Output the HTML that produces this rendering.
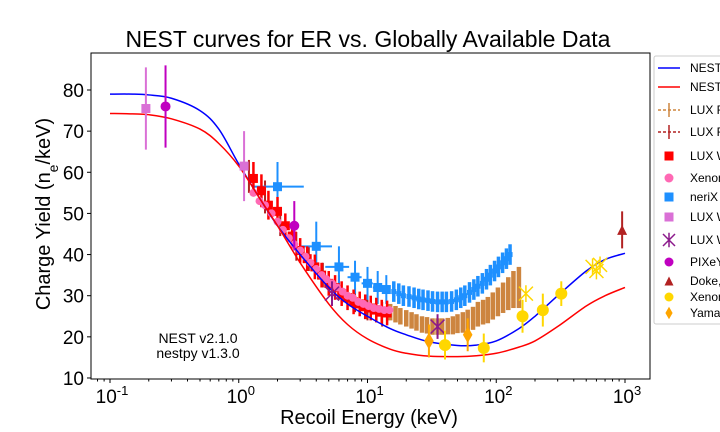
<!DOCTYPE html>
<html><head><meta charset="utf-8"><style>
body{margin:0;background:#fff;}
svg{display:block;font-family:"Liberation Sans","DejaVu Sans",sans-serif;}
</style></head><body>
<svg id="c" width="720" height="432" viewBox="0 0 720 432">
<rect x="0" y="0" width="720" height="432" fill="#fff"/>
<text x="368" y="47" font-size="23" text-anchor="middle">NEST curves for ER vs. Globally Available Data</text>
<text x="369" y="424" font-size="20" text-anchor="middle">Recoil Energy (keV)</text>
<text transform="translate(50,214) rotate(-90)" font-size="20" text-anchor="middle">Charge Yield (n<tspan baseline-shift="sub" font-size="14">e</tspan>/keV)</text>
<g id="grid"></g>
<g id="plot"></g>
<text x="198" y="343" font-size="14" text-anchor="middle">NEST v2.1.0</text>
<text x="198" y="358" font-size="14" text-anchor="middle">nestpy v1.3.0</text>
<rect x="91" y="53" width="559" height="326" fill="none" stroke="#000" stroke-width="1"/>
<g id="legend"></g>
</svg>
<script>
// ---- data ----
const curveE = [0.1,0.15,0.2,0.3,0.5,0.7,1,1.5,2,3,5,7,10,15,20,30,50,70,100,150,200,300,500,700,1000];
const blueY  = [79,79,78.8,78,75,70.5,62,53,47,40,32,28,25,22,20.5,18.8,17.9,18,19,22,25,30,36,38.8,40.3];
const redY   = [74.3,74.2,74,73,70.5,67,61.5,53,47,38,28,23,19.5,17,16,15.3,15.2,15.4,16,17.5,19,22.5,27.5,30,32];

const luxE = [1.3,1.5,1.7,2.0,2.3,2.6,3.0,3.4,3.9,4.4,5.0,5.6,6.3,7.0,7.8,8.7,9.6,10.6,11.7,12.9,14.2];
const luxY = [58.5,55.5,52,50.5,47,44.5,41,39,37,35,33,32,30.5,29.5,28.5,28,27.3,27,26.5,26,25.8];
const luxErr = [4,4,3.5,3.5,3,3,3,3,3,3,3,3,3,3,3,3,3,3,3,3,3];

const xenE = [1.3,1.45,1.6,1.8,2.0,2.2,2.45,2.7,3.0,3.3,3.6,4.0,4.4,4.8,5.3,5.8,6.4,7.0,7.7,8.5,9.3,10.2,11.2,12.3,13.5,14.8];
const xenY = [55,53,52,50,48,46,44,42.5,41,39.5,38,36.5,35,34,33,32,31,30,29.5,28.5,28,27.5,27,26.8,26.5,26.5];

const nerixBigE = [2.0,4.0,6.0,8.0,10,12,14];
const nerixBigY = [56.5,42,37,34.5,33,32,31.5];
const nerixBigYErr = [6,6,5,4,4,4,3.5];
const nerixBigXLo = [1.3,3.0,4.7,7,9,11,13];
const nerixBigXHi = [3.2,5.3,7.2,9,11,13,15];
const nerixE = [16,17.5,19,21,23,25,27,29.5,32,35,38,41,45,49,53,57,62,67,72,78,84,90,97,104,112,120,128];
const nerixY = [31,30.5,30,29.8,29.5,29.2,29,28.8,28.6,28.5,28.5,28.5,28.6,29,29.5,30,30.8,31.5,32.3,33,34,35,36,37,38,39,40];
const nerixErr = [2.5,2.5,2.5,2.5,2.5,2.5,2.5,2.5,2.5,2.5,2.5,2.5,2.5,2.5,2.5,2.5,2.5,2.5,2.5,2.5,2.5,2.5,2.5,2.5,2.5,2.5,2.5];

const run3E = [15,16.5,18,20,22,24,26.5,29,32,35,38,42,46,50,55,60,66,72,79,86,94,103,113,124,136,150];
const run3Y = [26,25.5,25,24.5,24,23.5,23,22.8,22.5,22.5,22.5,22.6,22.8,23.2,23.5,24,24.5,25.5,26,26.5,27.5,28.5,29.5,30.5,31.5,32];
const run3Err = [2,2,2,2,2,2,2,2,2,2,2,2,2.2,2.3,2.5,2.6,2.8,3,3,3.2,3.3,3.5,3.7,4,4.5,5];

const run4E = [1.2,1.6,2.1,2.8,3.5,4.5,6,8,10,13];
const run4Y = [59,54,48,42,39,35,32,29,27,25.5];
const run4Err = [4,4,3.5,3.5,3,3,3,3,3,3];

const orchidE = [0.19,1.1];
const orchidY = [75.5,61.5];
const orchidErr = [10,8.5];
const pixeyE = [0.27,2.7];
const pixeyY = [76,47];
const pixeyErr = [10,6];
const purpleXE = [5.3,35];
const purpleXY = [30.5,22.5];
const purpleXErr = [3,3];
const dokeE = [950];
const dokeY = [46];
const dokeErr = [4.5];
const goldE = [40,80,160,230,320];
const goldY = [18,17.3,25,26.5,30.5];
const goldErr = [3.5,3.5,4,4,3];
const goldStarE = [170,560,600,640];
const goldStarY = [30.5,37,36,37.5];
const yamaE = [30,60];
const yamaY = [19,20.5];
const yamaErr = [4,4];

const yTicks = [10,20,30,40,50,60,70,80];
const xTickExp = [-1,0,1,2,3];

// ---- scales ----
const xs = e => 110 + 128.75*(Math.log10(e)+1);
const ys = v => 90 + (80-v)*4.114;
const NS='http://www.w3.org/2000/svg';
const plot=document.getElementById('plot'), grid=document.getElementById('grid'), leg=document.getElementById('legend');
function mk(tag, attrs, parent){const el=document.createElementNS(NS,tag);for(const k in attrs)el.setAttribute(k,attrs[k]);(parent||plot).appendChild(el);return el;}

yTicks.forEach(v=>{
  const l=mk('line',{x1:87,x2:91,y1:ys(v),y2:ys(v),stroke:'#000'},grid);
  
  
  const t=mk('text',{x:84,y:ys(v)+7,'font-size':19,'text-anchor':'end'},grid);
  t.textContent=v;
  
  
});
xTickExp.forEach(p=>{
  const x=xs(Math.pow(10,p));
  const l=mk('line',{x1:x,x2:x,y1:379,y2:383,stroke:'#000'},grid);
  
  
  const t=mk('text',{x:x+2,y:403,'font-size':19,'text-anchor':'middle'},grid);
  t.innerHTML='10<tspan dy="-8" font-size="13">'+p+'</tspan>';
  
  
});
for(let p=-2;p<=3;p++)for(let m=2;m<10;m++){
  const x=xs(m*Math.pow(10,p));
  if(x<91||x>650)continue;
  const l=mk('line',{x1:x,x2:x,y1:379,y2:381.5,stroke:'#000'},grid);
  
  
}

function curve(E,Y,color,name){
  const P=E.map((e,i)=>[xs(e),ys(Y[i])]);
  let d='M'+P[0][0]+','+P[0][1];
  for(let i=0;i<P.length-1;i++){
    const p0=P[Math.max(0,i-1)],p1=P[i],p2=P[i+1],p3=P[Math.min(P.length-1,i+2)];
    d+=' C'+(p1[0]+(p2[0]-p0[0])/6)+','+(p1[1]+(p2[1]-p0[1])/6)+' '+(p2[0]-(p3[0]-p1[0])/6)+','+(p2[1]-(p3[1]-p1[1])/6)+' '+p2[0]+','+p2[1];
  }
  const el=mk('path',{d:d,fill:'none',stroke:color,'stroke-width':1.5});
  
  
}

function marker(shape,x,y,color,s,parent){
  let el;
  if(shape==='sq')el=mk('rect',{x:x-s/2,y:y-s/2,width:s,height:s,fill:color},parent);
  else if(shape==='circ')el=mk('circle',{cx:x,cy:y,r:s/2,fill:color},parent);
  else if(shape==='dia')el=mk('polygon',{points:`${x},${y-s*0.7} ${x+s*0.4},${y} ${x},${y+s*0.7} ${x-s*0.4},${y}`,fill:color},parent);
  else if(shape==='tri')el=mk('polygon',{points:`${x},${y-s/2} ${x+s/2},${y+s/2} ${x-s/2},${y+s/2}`,fill:color},parent);
  else if(shape==='x'){el=mk('path',{d:`M${x-s/2},${y-s/2}L${x+s/2},${y+s/2}M${x-s/2},${y+s/2}L${x+s/2},${y-s/2}`,stroke:color,'stroke-width':1.5,fill:'none'},parent);}
  else if(shape==='star'){el=mk('path',{d:`M${x-s/2},${y-s/2}L${x+s/2},${y+s/2}M${x-s/2},${y+s/2}L${x+s/2},${y-s/2}M${x},${y-s*0.6}L${x},${y+s*0.6}`,stroke:color,'stroke-width':1.5,fill:'none'},parent);}
  return el;
}

function series(E,Y,Err,color,shape,size,name,barW){
  E.forEach((e,i)=>{
    const x=xs(e),y=ys(Y[i]);
    if(Err){
      const b=mk('line',{x1:x,x2:x,y1:ys(Y[i]+Err[i]),y2:ys(Y[i]-Err[i]),stroke:color,'stroke-width':barW||2});
      
      
    }
    if(shape){
      const m=marker(shape,x,y,color,size);
      
      
    }
  });
}

series(run4E,run4Y,run4Err,'#b22222',null,0,'lux-run04',2);
series(run3E,run3Y,run3Err,'#cd853f',null,0,'lux-run03',4.5);
series(nerixE,nerixY,nerixErr,'#1e90ff','sq',5,'nerix-dense',3.5);
nerixBigE.forEach((e,i)=>{
  const h=mk('line',{x1:xs(nerixBigXLo[i]),x2:xs(nerixBigXHi[i]),y1:ys(nerixBigY[i]),y2:ys(nerixBigY[i]),stroke:'#1e90ff','stroke-width':2});
  
  
});
series(nerixBigE,nerixBigY,nerixBigYErr,'#1e90ff','sq',9,'nerix',2);
series(luxE,luxY,luxErr,'#ff0000','sq',9,'lux-w',2.5);
series(xenE,xenY,null,'#ff69b4','circ',8,'xenon');
curve(curveE,blueY,'#0000ff','nest-curve-blue');
curve(curveE,redY,'#ff0000','nest-curve-red');
series(orchidE,orchidY,orchidErr,'#da70d6','sq',9,'lux-w-orchid',2);
series(pixeyE,pixeyY,pixeyErr,'#c000c0','circ',10,'pixey',2);
series(purpleXE,purpleXY,purpleXErr,'#8b1a8b','x',14,'lux-w-x',2);
series(dokeE,dokeY,dokeErr,'#b22222','tri',10,'doke',2);
series(goldE,goldY,goldErr,'#ffd700','circ',12,'xenon-gold',2);
series(goldStarE,goldStarY,null,'#ffd700','star',14,'xenon-star');
series(yamaE,yamaY,yamaErr,'#ffa500','dia',12,'yamashita',2);

const lb=mk('rect',{x:654,y:56,width:80,height:268,rx:2,fill:'#fff',stroke:'#ccc'},leg);


const legLabels=['NEST, 180 V/cm','NEST, 50 V/cm','LUX Run03','LUX Run04','LUX WS2013','Xenon10','neriX','LUX WS2014','LUX WS2016','PIXeY','Doke, et al.','Xenon100','Yamashita'];
const legY=[68,87,110,132,156,178,197,217,240,262,281,297,313];
const legColors=['#0000ff','#ff0000','#cd853f','#b22222','#ff0000','#ff69b4','#1e90ff','#da70d6','#8b1a8b','#c000c0','#b22222','#ffd700','#ffa500'];
const legShapes=['line','line','plus','plus','sq','circ','sq','sq','star','circ','tri','circ','dia'];
legLabels.forEach((t,i)=>{
  const y=legY[i],c=legColors[i],s=legShapes[i];
  const g=mk('g',{},leg);
  
  
  if(s==='line')mk('line',{x1:658,x2:680,y1:y,y2:y,stroke:c,'stroke-width':1.5},g);
  else if(s==='plus'){mk('line',{x1:658,x2:680,y1:y,y2:y,stroke:c,'stroke-width':1.5,'stroke-dasharray':'3,2'},g);mk('line',{x1:669,x2:669,y1:y-7,y2:y+7,stroke:c,'stroke-width':1.5},g);}
  else marker(s,669,y,c,s==='star'?12:9,g);
  const tx=mk('text',{x:690,y:y+4,'font-size':12},g);
  tx.textContent=t;
});
</script>
</body></html>
